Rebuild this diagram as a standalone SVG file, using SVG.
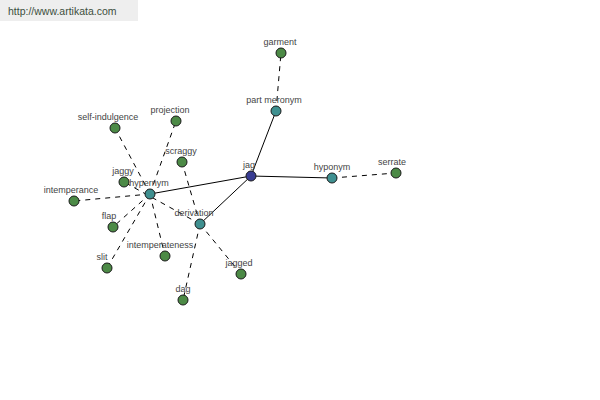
<svg xmlns="http://www.w3.org/2000/svg" width="600" height="400" viewBox="0 0 600 400">
<style>
.e{stroke:#000;stroke-width:1;fill:none}
.d{stroke-dasharray:5 5}
.n{stroke:#1a1a1a;stroke-width:1}
.g{fill:#4c8a46}
.t{fill:#3f9090}
.b{fill:#383c92}
text{font-family:"Liberation Sans",Arial,sans-serif;font-size:9px;fill:#444;text-anchor:middle}
</style>
<rect x="0" y="0" width="138" height="21" fill="#eeeeee"/>
<text x="8" y="15" style="font-size:10.5px;fill:#3d4f3d;text-anchor:start">http://www.artikata.com</text>
<g id="connectors">
<line class="e" x1="251" y1="176" x2="276" y2="111"/>
<line class="e" x1="251" y1="176" x2="332" y2="178"/>
<line class="e" x1="251" y1="176" x2="150" y2="194"/>
<line class="e" x1="251" y1="176" x2="200" y2="224"/>
<line class="e d" x1="276" y1="111" x2="281" y2="53"/>
<line class="e d" x1="332" y1="178" x2="396" y2="173"/>
<line class="e d" x1="150" y1="194" x2="115" y2="128"/>
<line class="e d" x1="150" y1="194" x2="176" y2="121"/>
<line class="e d" x1="150" y1="194" x2="74" y2="201"/>
<line class="e d" x1="150" y1="194" x2="113" y2="227"/>
<line class="e d" x1="150" y1="194" x2="107" y2="268"/>
<line class="e d" x1="150" y1="194" x2="165" y2="256"/>
<line class="e d" x1="200" y1="224" x2="124" y2="182"/>
<line class="e d" x1="200" y1="224" x2="182" y2="162"/>
<line class="e d" x1="200" y1="224" x2="241" y2="274"/>
<line class="e d" x1="200" y1="224" x2="183" y2="300"/>
</g>
<g id="jag"><circle class="n b" cx="251" cy="176" r="5"/><text x="249" y="168">jag</text></g>
<g id="part-meronym"><circle class="n t" cx="276" cy="111" r="5"/><text x="274" y="103">part meronym</text></g>
<g id="garment"><circle class="n g" cx="281" cy="53" r="5"/><text x="280" y="45">garment</text></g>
<g id="hyponym"><circle class="n t" cx="332" cy="178" r="5"/><text x="332" y="170">hyponym</text></g>
<g id="serrate"><circle class="n g" cx="396" cy="173" r="5"/><text x="392" y="165">serrate</text></g>
<g id="hypernym"><circle class="n t" cx="150" cy="194" r="5"/><text x="149" y="186">hypernym</text></g>
<g id="derivation"><circle class="n t" cx="200" cy="224" r="5"/><text x="194" y="216">derivation</text></g>
<g id="self-indulgence"><circle class="n g" cx="115" cy="128" r="5"/><text x="108" y="120">self-indulgence</text></g>
<g id="projection"><circle class="n g" cx="176" cy="121" r="5"/><text x="170" y="113">projection</text></g>
<g id="scraggy"><circle class="n g" cx="182" cy="162" r="5"/><text x="181" y="154">scraggy</text></g>
<g id="jaggy"><circle class="n g" cx="124" cy="182" r="5"/><text x="123" y="174">jaggy</text></g>
<g id="intemperance"><circle class="n g" cx="74" cy="201" r="5"/><text x="71" y="193">intemperance</text></g>
<g id="flap"><circle class="n g" cx="113" cy="227" r="5"/><text x="109" y="219">flap</text></g>
<g id="slit"><circle class="n g" cx="107" cy="268" r="5"/><text x="102" y="260">slit</text></g>
<g id="intemperateness"><circle class="n g" cx="165" cy="256" r="5"/><text x="160" y="248">intemperateness</text></g>
<g id="jagged"><circle class="n g" cx="241" cy="274" r="5"/><text x="239" y="266">jagged</text></g>
<g id="dag"><circle class="n g" cx="183" cy="300" r="5"/><text x="183" y="292">dag</text></g>
</svg>
